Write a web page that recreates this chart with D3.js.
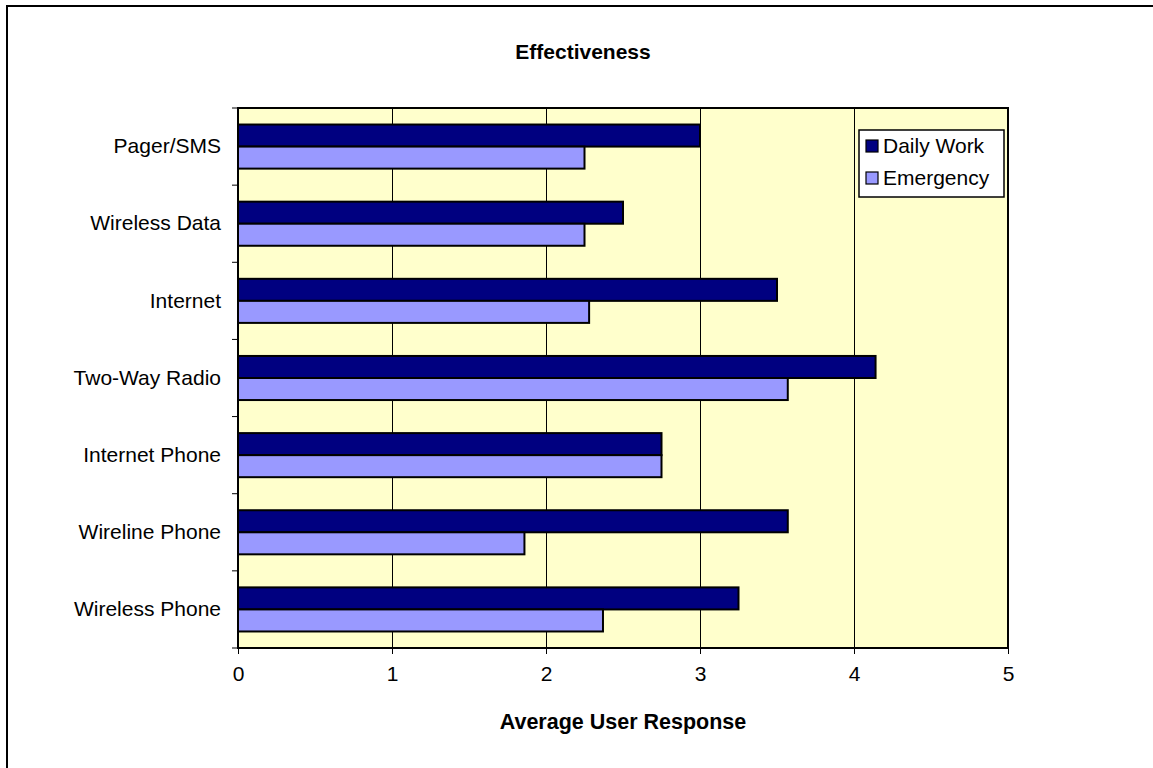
<!DOCTYPE html>
<html>
<head>
<meta charset="utf-8">
<script src="https://cdn.jsdelivr.net/npm/d3@7"></script>
<style>
  body { margin: 0; background: #fff; }
  text { font-family: "Liberation Sans", Arial, sans-serif; fill: #000; }
</style>
</head>
<body>
<svg id="chart" width="1153" height="768"></svg>
<script>
let categories = ["Pager/SMS", "Wireless Data", "Internet", "Two-Way Radio",
                  "Internet Phone", "Wireline Phone", "Wireless Phone"];
let series = ["Daily Work", "Emergency"];
let daily_work = [3.0, 2.5, 3.5, 4.14, 2.75, 3.57, 3.25];
let emergency = [2.25, 2.25, 2.28, 3.57, 2.75, 1.86, 2.37];
let x_ticks = [0, 1, 2, 3, 4, 5];
let colors = ["#000080", "#9999ff"];

let width = 1153,
    height = 768,
    fsize = 21,
    plot = {left: 238, top: 108, right: 1008, bottom: 648};

function make_scales() {
  let y = d3.scaleBand()
    .domain(categories)
    .range([plot.top, plot.bottom]);
  return {
    x: d3.scaleLinear()
      .domain([0, 5])
      .range([plot.left, plot.right]),
    y: y,
    inner: d3.scaleBand()
      .domain(series)
      .range([0, y.bandwidth()])
      .paddingOuter(0.75)
      .paddingInner(0)
  }
}

function draw() {
  let svg = d3.select("#chart");
  let scales = make_scales();

  // outer chart border
  svg.append("rect")
    .attrs({x: 7, y: 6, width: width + 20, height: height + 20,
            fill: "none", stroke: "#000", "stroke-width": 2});

  svg.append("text")
    .attrs({x: 583, y: 59, "text-anchor": "middle",
            "font-size": fsize, "font-weight": "bold"})
    .text("Effectiveness");

  // plot background
  svg.append("rect")
    .attrs({x: plot.left, y: plot.top,
            width: plot.right - plot.left, height: plot.bottom - plot.top,
            fill: "#ffffcc"});

  // vertical grid
  svg.append("g")
    .selectAll("line")
    .data(x_ticks.slice(1, -1)).enter()
    .append("line")
    .attrs({
      x1: d => scales.x(d) + 0.5, x2: d => scales.x(d) + 0.5,
      y1: plot.top, y2: plot.bottom,
      stroke: "#000", "stroke-width": 1
    });

  let rows = [daily_work, emergency];
  series.forEach((s, i) => {
    svg.append("g")
      .selectAll("rect")
      .data(categories.map((c, j) => ({cat: c, value: rows[i][j]}))).enter()
      .append("rect")
      .attrs({
        x: scales.x(0),
        y: d => scales.y(d.cat) + scales.inner(s),
        width: d => scales.x(d.value) - scales.x(0),
        height: scales.inner.bandwidth(),
        fill: colors[i],
        stroke: "#000",
        "stroke-width": 2
      });
  });

  // plot frame
  svg.append("rect")
    .attrs({x: plot.left, y: plot.top,
            width: plot.right - plot.left, height: plot.bottom - plot.top,
            fill: "none", stroke: "#000", "stroke-width": 2});

  // y axis: ticks between categories
  let y_axis = d3.axisLeft(scales.y).tickSize(0).tickPadding(17);
  let gy = svg.append("g")
    .attr("transform", `translate(${plot.left},0)`)
    .call(y_axis);
  gy.select(".domain").remove();
  gy.selectAll("text")
    .attrs({"font-size": fsize, "font-family": "Liberation Sans, Arial, sans-serif"});
  svg.append("g")
    .selectAll("line")
    .data(d3.range(categories.length + 1)).enter()
    .append("line")
    .attrs({
      x1: plot.left - 6, x2: plot.left,
      y1: d => plot.top + d * scales.y.step(),
      y2: d => plot.top + d * scales.y.step(),
      stroke: "#000"
    });

  // x axis
  let x_axis = d3.axisBottom(scales.x)
    .tickValues(x_ticks)
    .tickFormat(d3.format("d"))
    .tickSize(6)
    .tickPadding(12);
  let gx = svg.append("g")
    .attr("transform", `translate(0,${plot.bottom})`)
    .call(x_axis);
  gx.select(".domain").remove();
  gx.selectAll("text")
    .attrs({"font-size": fsize, "font-family": "Liberation Sans, Arial, sans-serif"});

  svg.append("text")
    .attrs({x: (plot.left + plot.right) / 2, y: 729, "text-anchor": "middle",
            "font-size": fsize + 0.5, "font-weight": "bold"})
    .text("Average User Response");

  // legend
  let legend = svg.append("g").attr("transform", "translate(859,130)");
  legend.append("rect")
    .attrs({x: 0, y: 0, width: 145, height: 67,
            fill: "#fff", stroke: "#000", "stroke-width": 1.5});
  series.forEach((s, i) => {
    legend.append("rect")
      .attrs({x: 7, y: 10 + i * 32, width: 12, height: 12,
              fill: colors[i], stroke: "#000", "stroke-width": 1.2});
    legend.append("text")
      .attrs({x: 24, y: 23 + i * 32, "font-size": fsize})
      .text(s);
  });
}

// d3 v7 has no .attrs, add a small helper
d3.selection.prototype.attrs = function(obj) {
  for (let k in obj) this.attr(k, obj[k]);
  return this;
};

draw();
</script>
</body>
</html>
